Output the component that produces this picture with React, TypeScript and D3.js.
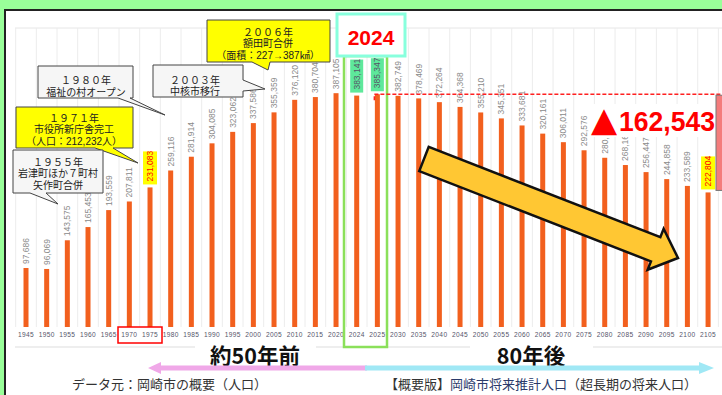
import React from 'react';
import * as d3 from 'd3';

const years = ['1945','1950','1955','1960','1965','1970','1975','1980','1985','1990','1995','2000','2005','2010','2015','2020','2024','2025','2030','2035','2040','2045','2050','2055','2060','2065','2070','2075','2080','2085','2090','2095','2100','2105'];
const population = [97686,96069,143575,165453,193559,207811,231083,259116,281914,304085,323062,337586,355359,376120,380704,387105,383141,385347,382749,378469,372264,364368,355210,345351,333681,320161,306011,292576,280178,268165,256447,244858,233589,222804];
const yellowLabels = ['1975','2105'];
const greenLabels = ['2024','2025'];
const diffText = '162,543';

const JP = "'Noto Sans CJK JP', sans-serif";
const CALLOUT_FONT = "'Liberation Sans', 'Noto Sans CJK JP', sans-serif";
const AR = "'Liberation Sans', Arial, sans-serif";

type Callout = { lines: string[]; box: [number, number, number, number]; edge: 'bottom' | 'right'; b1: number; b2: number; tip: [number, number]; fill: string; lineY: number; cx: number };

const callouts: Callout[] = [
  { lines: ['２００６年', '額田町合併', '（面積：227→387㎢）'], box: [207, 20, 330, 62], edge: 'bottom', b1: 252, b2: 270, tip: [268, 70], fill: '#ffff00', lineY: 31.5, cx: 268 },
  { lines: ['１９８０年', '福祉の村オープン'], box: [38, 66, 133, 98], edge: 'bottom', b1: 118, b2: 130, tip: [165, 115], fill: '#f6f6f6', lineY: 80, cx: 86 },
  { lines: ['２００３年', '中核市移行'], box: [153, 65, 243, 97], edge: 'right', b1: 80, b2: 91, tip: [265, 89], fill: '#f6f6f6', lineY: 79.5, cx: 195 },
  { lines: ['１９７１年', '市役所新庁舎完工', '（人口：212,232人）'], box: [16, 107, 133, 148], edge: 'bottom', b1: 95, b2: 113, tip: [138, 163], fill: '#ffff00', lineY: 117.5, cx: 74 },
  { lines: ['１９５５年', '岩津町ほか７町村', '矢作町合併'], box: [13, 150, 103, 193], edge: 'bottom', b1: 30, b2: 46, tip: [58, 204], fill: '#f6f6f6', lineY: 161.5, cx: 58 },
];

function calloutPath(c: Callout) {
  const [l, t, r, b] = c.box;
  if (c.edge === 'bottom') {
    return `M${l},${t}H${r}V${b}H${c.b2}L${c.tip[0]},${c.tip[1]}L${c.b1},${b}H${l}Z`;
  }
  return `M${l},${t}H${r}V${c.b1}L${c.tip[0]},${c.tip[1]}L${r},${c.b2}V${b}H${l}Z`;
}

export default function App() {
  const W = 722, H = 395;
  const x = d3.scaleBand<string>().domain(years).range([15.67, 718.4]).paddingInner(0).paddingOuter(0);
  const y = d3.scaleLinear().domain([0, 500000]).range([327, 25]);
  const bw = x.bandwidth();
  const cx = (yr: string) => (x(yr) as number) + bw / 2;

  const tail: [number, number] = [424, 159];
  const tip: [number, number] = [678, 258];
  const dx = tip[0] - tail[0], dy = tip[1] - tail[1];
  const len = Math.hypot(dx, dy);
  const ux = dx / len, uy = dy / len, nx = -uy, ny = ux;
  const hw = 13, headW = 22, headL = 24;
  const hb = [tip[0] - ux * headL, tip[1] - uy * headL];
  const arrowPts = [
    [tail[0] + nx * hw, tail[1] + ny * hw],
    [hb[0] + nx * hw, hb[1] + ny * hw],
    [hb[0] + nx * headW, hb[1] + ny * headW],
    tip,
    [hb[0] - nx * headW, hb[1] - ny * headW],
    [hb[0] - nx * hw, hb[1] - ny * hw],
    [tail[0] - nx * hw, tail[1] - ny * hw],
  ].map(p => p.join(',')).join(' ');

  const y2025 = y(population[years.indexOf('2025')]);
  const y2105 = y(population[years.indexOf('2105')]);

  return (
    <svg width={W} height={H} style={{ position: 'fixed', left: 0, top: 0 }} xmlns="http://www.w3.org/2000/svg">
      <rect x={0} y={0} width={W} height={H} fill="#99ff99" />
      <rect x={5} y={10} width={W + 10} height={H} fill="#ffffff" stroke="#222" strokeWidth={2} />
      <line x1={15} x2={W} y1={28} y2={28} stroke="#e6e6e6" strokeWidth={1} />
      {years.map((yr) => (
        <line key={'g' + yr} x1={x(yr) as number} x2={x(yr) as number} y1={28} y2={327} stroke="#ececec" strokeWidth={1} />
      ))}
      <line x1={718.4} x2={718.4} y1={28} y2={327} stroke="#ececec" />
      {years.map((yr, i) => (
        <rect key={'b' + yr} x={cx(yr) - 2.5} y={y(population[i])} width={5} height={327 - y(population[i])} fill="#f2601e" />
      ))}
      {years.map((yr, i) => {
        const top = y(population[i]) - 4;
        const isY = yellowLabels.includes(yr);
        const isG = greenLabels.includes(yr);
        return (
          <g key={'l' + yr}>
            {isY && <rect x={cx(yr) - 7} y={top - 32} width={14} height={33} fill="#ffff00" />}
            {isG && <rect x={cx(yr) - 6.5} y={top - 32} width={13} height={33} fill="#5ee89b" />}
            <text
              transform={`translate(${cx(yr) + 3},${top - (isY || isG ? 2 : 0)}) rotate(-90)`}
              fontFamily={AR}
              fontSize={8.5}
              fill={isY ? '#ff0000' : isG ? '#556' : '#8a8a8a'}
            >
              {d3.format(',')(population[i])}
            </text>
          </g>
        );
      })}
      {years.map((yr) => (
        <text key={'x' + yr} x={cx(yr)} y={336.5} textAnchor="middle" fontFamily={AR} fontSize={6.6} letterSpacing={0.35} fill="#55556a">{yr}</text>
      ))}
      <rect x={118} y={327} width={44} height={16} fill="none" stroke="#ff0000" strokeWidth={1.5} />
      <line x1={15} x2={W} y1={347} y2={347} stroke="#dddddd" strokeWidth={1} />
      <rect x={344} y={56} width={43} height={291} fill="none" stroke="#8be05a" strokeWidth={2.5} />
      <rect x={337} y={14} width={68} height={42} fill="#ffffff" stroke="#88ffdd" strokeWidth={3} />
      <text x={371} y={45} textAnchor="middle" fontFamily={AR} fontWeight="bold" fontSize={21} fill="#ff0000">2024</text>
      <path d={`M${cx('2025') - 3},${y2025 + 6}V${y2025}H${W}`} fill="none" stroke="#ff2020" strokeWidth={1.5} strokeDasharray="4,2" />
      <rect x={716} y={y2025 + 1} width={14} height={y2105 - y2025 - 3} fill="#f47c7c" stroke="#777" strokeWidth={1} />
      <rect x={590} y={104} width={125} height={33} fill="#ffffff" />
      <text y={131} fontFamily={AR} fontWeight="bold" fill="#ff0000">
        <tspan x={591} fontSize={34} fontFamily="'DejaVu Sans', sans-serif">▲</tspan>
        <tspan x={619} fontSize={28} textLength={96} lengthAdjust="spacingAndGlyphs">{diffText}</tspan>
      </text>
      <polygon points={arrowPts} fill="#ffc733" stroke="#111" strokeWidth={2.5} strokeLinejoin="miter" />
      {callouts.map((c, k) => (
        <g key={'c' + k}>
          <path d={calloutPath(c)} fill={c.fill} stroke="#444" strokeWidth={1} />
          <text textAnchor="middle" fontFamily={CALLOUT_FONT} fontSize={10} fill="#222">
            {c.lines.map((ln, j) => (
              <tspan key={j} x={c.cx} y={c.lineY + j * 11.6 + 4}>{ln}</tspan>
            ))}
          </text>
        </g>
      ))}
      <rect x={195} y={339} width={121} height={26} fill="#ffffff" />
      <text x={255} y={364} textAnchor="middle" fontFamily={JP} fontWeight="bold" fontSize={21.5} fill="#111">約50年前</text>
      <rect x={470} y={339} width={123} height={26} fill="#ffffff" />
      <text x={531} y={364} textAnchor="middle" fontFamily={JP} fontWeight="bold" fontSize={21.5} fill="#111">80年後</text>
      <polygon points="148,368 161,362 161,365.5 367,365.5 367,370.5 161,370.5 161,374" fill="#f0a8e8" />
      <polygon points="714,368 699,362 699,365.5 365,365.5 365,370.5 699,370.5 699,374" fill="#a0e8f5" />
      <text x={72} y={389} fontFamily={JP} fontSize={13} fill="#333">データ元：岡崎市の概要（人口）</text>
      <text x={385} y={389} fontFamily={JP} fontSize={13} fill="#333">
        <tspan>【概要版】</tspan><tspan fill="#2a3a6a">岡崎市将来推計人口</tspan><tspan>（超長期の将来人口）</tspan>
      </text>
    </svg>
  );
}
